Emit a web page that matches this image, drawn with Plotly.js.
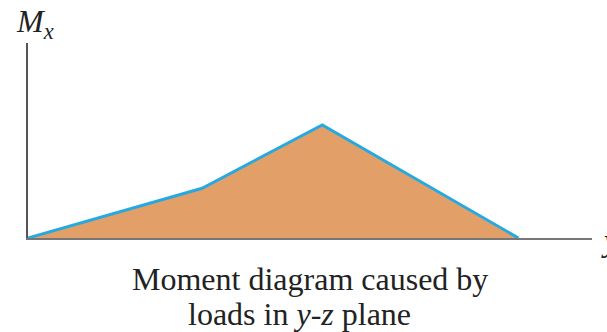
<!DOCTYPE html>
<html>
<head>
<meta charset="utf-8">
<script src="https://cdn.plot.ly/plotly-3.0.1.min.js"></script>
<style>html,body{margin:0;padding:0;background:#fff;}#chart{width:607px;height:332px;}</style>
</head>
<body>
<div id="chart"></div>
<script>
// Position along the beam (y) and bending moment Mx (relative units)
var positions = [0, 3.55, 6.0, 10.0];
var moments   = [0, 44, 100, 0];
var xRange = [0, 11.5];
var yRange = [0, 172.5];
var yAxisLabel = 'M<sub>x</sub>';
var xAxisLabel = 'y';
var captionLine1 = 'Moment diagram caused by';
var captionLine2 = 'loads in <i>y</i>-<i>z</i> plane';

var serif = '"Liberation Serif", "Times New Roman", serif';

var trace = {
  x: positions,
  y: moments,
  type: 'scatter',
  mode: 'lines',
  fill: 'tozeroy',
  fillcolor: '#E2A068',
  line: {color: '#26A9E0', width: 3},
  cliponaxis: false,
  hoverinfo: 'skip'
};

var layout = {
  width: 607,
  height: 332,
  margin: {l: 28, r: 15, t: 43, b: 94, pad: 0},
  paper_bgcolor: '#ffffff',
  plot_bgcolor: '#ffffff',
  showlegend: false,
  xaxis: {
    range: xRange, showgrid: false, zeroline: false, showticklabels: false, ticks: '',
    showline: true, linecolor: '#777777', linewidth: 2, fixedrange: true
  },
  yaxis: {
    range: yRange, showgrid: false, zeroline: false, showticklabels: false, ticks: '',
    showline: true, linecolor: '#555555', linewidth: 2, fixedrange: true
  },
  annotations: [
    {text: '<i>M</i><sub><i>x</i></sub>', xref: 'paper', yref: 'paper', x: -0.024, y: 1.1,
     xanchor: 'left', yanchor: 'middle', showarrow: false,
     font: {family: serif, size: 32, color: '#222222'}},
    {text: '<i>' + xAxisLabel + '</i>', xref: 'paper', yref: 'paper', x: 1.013, y: -0.01,
     xanchor: 'left', yanchor: 'middle', showarrow: false,
     font: {family: serif, size: 32, color: '#222222'}},
    {text: captionLine1, xref: 'paper', yref: 'paper', x: 0.4995, y: -0.212,
     xanchor: 'center', yanchor: 'middle', showarrow: false,
     font: {family: serif, size: 32, color: '#222222'}},
    {text: captionLine2, xref: 'paper', yref: 'paper', x: 0.482, y: -0.39,
     xanchor: 'center', yanchor: 'middle', showarrow: false,
     font: {family: serif, size: 32, color: '#222222'}}
  ]
};

Plotly.newPlot('chart', [trace], layout, {displayModeBar: false, staticPlot: true});
</script>
</body>
</html>
